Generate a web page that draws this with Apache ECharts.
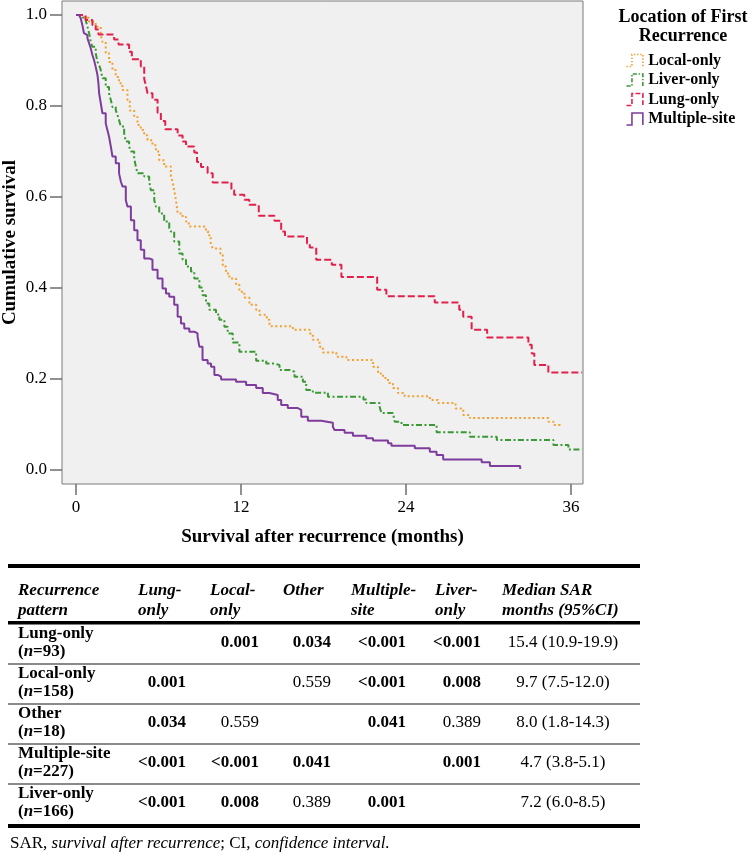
<!DOCTYPE html>
<html>
<head>
<meta charset="utf-8">
<script src="https://cdn.jsdelivr.net/npm/echarts@6/dist/echarts.min.js"></script>
<style>
html,body{margin:0;padding:0;background:#ffffff;}
#main{width:750px;height:853px;}
</style>
</head>
<body>
<div id="main"></div>
<script>
// ---------------- DATA ----------------
const xTicks = [0, 12, 24, 36];
const yTicks = [0, 0.2, 0.4, 0.6, 0.8, 1.0];
const xAxisTitle = 'Survival after recurrence (months)';
const yAxisTitle = 'Cumulative survival';
const legendTitle = ['Location of First', 'Recurrence'];
const seriesNames = ['Local-only', 'Liver-only', 'Lung-only', 'Multiple-site'];

// Kaplan-Meier step points [month, cumulative survival]
const localOnly = [[0,1.0],[0.6,0.994],[0.95,0.985],[1.43,0.974],[1.8,0.956],[1.92,0.941],[2.16,0.916],[2.4,0.897],[2.65,0.879],[2.89,0.864],[3.13,0.850],[3.38,0.835],[3.74,0.813],[3.91,0.790],[4.23,0.776],[4.47,0.758],[4.71,0.747],[4.96,0.736],[5.2,0.725],[5.56,0.714],[5.81,0.700],[6.05,0.681],[6.41,0.667],[6.9,0.645],[7.02,0.634],[7.14,0.615],[7.27,0.593],[7.39,0.564],[7.75,0.556],[8.0,0.546],[8.2,0.535],[9.45,0.525],[9.6,0.516],[9.8,0.498],[9.94,0.487],[10.5,0.475],[10.67,0.447],[10.91,0.432],[11.15,0.421],[11.64,0.407],[11.88,0.392],[12.24,0.379],[12.61,0.363],[13.1,0.352],[13.34,0.341],[13.87,0.330],[14.07,0.316],[15.77,0.308],[16.98,0.300],[17.22,0.286],[17.71,0.271],[17.95,0.258],[18.93,0.249],[19.66,0.242],[21.6,0.227],[21.96,0.212],[22.33,0.202],[22.69,0.191],[23.05,0.180],[23.42,0.169],[23.9,0.162],[25.73,0.154],[26.33,0.147],[27.6,0.135],[28.16,0.121],[28.64,0.114],[34.35,0.106],[34.72,0.099],[35.2,0.095]];
const liverOnly = [[0,1.0],[0.5,0.994],[0.7,0.989],[0.83,0.974],[0.95,0.960],[1.07,0.941],[1.19,0.930],[1.43,0.916],[1.56,0.897],[1.68,0.890],[1.8,0.879],[1.92,0.861],[2.16,0.842],[2.4,0.828],[2.53,0.813],[2.65,0.798],[2.89,0.791],[3.01,0.780],[3.13,0.769],[3.26,0.755],[3.5,0.740],[3.62,0.722],[3.86,0.711],[3.99,0.700],[4.23,0.685],[4.35,0.667],[4.47,0.652],[4.96,0.645],[5.32,0.634],[5.44,0.615],[5.69,0.593],[5.81,0.579],[6.05,0.564],[6.41,0.546],[6.78,0.531],[6.9,0.524],[7.14,0.502],[7.51,0.476],[7.75,0.462],[8.0,0.447],[8.36,0.436],[8.6,0.421],[8.97,0.401],[9.2,0.384],[9.45,0.366],[9.69,0.352],[10.18,0.342],[10.42,0.330],[10.79,0.315],[11.03,0.300],[11.4,0.280],[11.88,0.260],[13.1,0.240],[13.83,0.234],[14.31,0.231],[14.8,0.220],[15.52,0.216],[15.89,0.205],[16.5,0.194],[16.74,0.176],[17.22,0.170],[18.32,0.161],[20.9,0.155],[21.11,0.147],[22.08,0.139],[22.21,0.125],[23.05,0.121],[23.18,0.106],[23.67,0.099],[26.22,0.083],[28.64,0.073],[30.6,0.066],[34.72,0.055],[35.81,0.045],[36.8,0.045]];
const lungOnly = [[0,1.0],[0.7,0.989],[1.19,0.978],[1.43,0.968],[1.63,0.957],[2.77,0.946],[3.09,0.935],[3.86,0.919],[4.06,0.903],[4.71,0.887],[4.96,0.860],[5.1,0.842],[5.2,0.828],[5.56,0.814],[5.93,0.785],[6.17,0.767],[6.49,0.749],[7.39,0.735],[7.75,0.722],[8.0,0.711],[8.6,0.698],[8.8,0.677],[9.09,0.666],[9.57,0.652],[9.94,0.632],[11.3,0.615],[11.5,0.605],[12.24,0.594],[12.6,0.583],[13.29,0.559],[14.43,0.548],[14.92,0.524],[15.2,0.513],[16.8,0.498],[17.0,0.489],[17.47,0.462],[18.6,0.451],[19.3,0.424],[21.9,0.396],[22.57,0.382],[26.09,0.368],[27.87,0.352],[28.16,0.337],[28.77,0.308],[29.9,0.291],[32.9,0.275],[33.14,0.256],[33.33,0.231],[34.35,0.214],[36.8,0.214]];
const multipleSite = [[0,1.0],[0.22,0.996],[0.34,0.993],[0.46,0.978],[0.58,0.960],[0.7,0.956],[0.83,0.949],[0.95,0.938],[1.07,0.927],[1.19,0.912],[1.31,0.901],[1.43,0.886],[1.56,0.868],[1.63,0.850],[1.68,0.828],[1.8,0.806],[1.92,0.784],[2.16,0.762],[2.28,0.747],[2.4,0.733],[2.53,0.711],[2.65,0.689],[2.89,0.674],[3.13,0.652],[3.26,0.634],[3.38,0.623],[3.62,0.593],[3.74,0.579],[3.99,0.549],[4.23,0.527],[4.47,0.505],[4.71,0.484],[4.96,0.465],[5.32,0.462],[5.56,0.440],[5.93,0.421],[6.29,0.399],[6.54,0.388],[6.78,0.381],[7.14,0.363],[7.39,0.337],[7.63,0.322],[7.87,0.311],[8.24,0.304],[8.6,0.300],[8.84,0.293],[8.97,0.271],[9.2,0.242],[9.57,0.234],[9.82,0.227],[10.06,0.209],[10.3,0.205],[10.55,0.199],[11.64,0.194],[12.37,0.187],[13.1,0.180],[13.58,0.169],[14.07,0.165],[14.67,0.154],[14.92,0.143],[15.4,0.136],[16.13,0.132],[16.38,0.117],[16.86,0.108],[17.83,0.104],[18.68,0.095],[18.8,0.088],[19.53,0.082],[20.14,0.075],[21.11,0.070],[21.6,0.065],[22.69,0.059],[22.94,0.053],[24.64,0.048],[25.73,0.040],[26.22,0.033],[26.7,0.023],[29.5,0.017],[30.1,0.009],[32.3,0.002]];

// Table content
const tableHeaders = ['Recurrence\npattern', 'Lung-\nonly', 'Local-\nonly', 'Other', 'Multiple-\nsite', 'Liver-\nonly', 'Median SAR\nmonths (95%CI)'];
const rowNames = ['Lung-only', 'Local-only', 'Other', 'Multiple-site', 'Liver-only'];
const rowN = [93, 158, 18, 227, 166];
const pValues = [
  ['', '0.001', '0.034', '<0.001', '<0.001'],
  ['0.001', '', '0.559', '<0.001', '0.008'],
  ['0.034', '0.559', '', '0.041', '0.389'],
  ['<0.001', '<0.001', '0.041', '', '0.001'],
  ['<0.001', '0.008', '0.389', '0.001', '']
];
const medianSAR = ['15.4 (10.9-19.9)', '9.7 (7.5-12.0)', '8.0 (1.8-14.3)', '4.7 (3.8-5.1)', '7.2 (6.0-8.5)'];
const footnoteParts = [['SAR, ', 'r'], ['survival after recurrence', 'i'], ['; CI, ', 'r'], ['confidence interval.', 'i']];

// ---------------- STYLE / LAYOUT ----------------
const FF = '"Liberation Serif", "Times New Roman", serif';
const colors = {'Local-only':'#f2a02e','Liver-only':'#3a9934','Lung-only':'#e2204c','Multiple-site':'#7e3d9d'};
const dashes = {'Local-only':[2,2.6],'Liver-only':[6,2.5,2,2.5],'Lung-only':[7,3],'Multiple-site':'solid'};
const seriesData = {'Local-only':localOnly,'Liver-only':liverOnly,'Lung-only':lungOnly,'Multiple-site':multipleSite};
const iconPath = 'path://M0,12 L5,12 L5,1 L15,1 L15,12';

const chart = echarts.init(document.getElementById('main'), null, {renderer:'canvas', width:750, height:853});

const graphics = [];
function txt(x, y, text, font, align, extra) {
  const st = Object.assign({text:text, font:font, fill:'#000', align:align||'left', verticalAlign:'middle', textAlign:align||'left', textVerticalAlign:'middle'}, extra||{});
  graphics.push({type:'text', x:x, y:y, silent:true, style:st});
}
function hline(y, h, color) {
  graphics.push({type:'rect', silent:true, shape:{x:8, y:y, width:632, height:h}, style:{fill:color}});
}
// legend title
legendTitle.forEach((t, k) => txt(683, 17 + 19 * k, t, `bold 18px ${FF}`, 'center'));

// table rules
hline(564, 4, '#000');
hline(621, 3.5, '#000');
for (let i = 0; i < rowNames.length - 1; i++) hline(663 + 40 * i, 2, '#8a8a8a');
hline(824, 4, '#000');

const colLeft = [18, 138, 210, 283, 351, 435, 502];
const valRight = [186, 259, 331, 406, 481];
const medianCenter = 563;
tableHeaders.forEach((h, j) => {
  h.split('\n').forEach((line, k) => txt(colLeft[j], 591 + 19.3 * k, line, `italic bold 17px ${FF}`, 'left'));
});
const isSig = v => v.charAt(0) === '<' || parseFloat(v) < 0.05;
rowNames.forEach((name, i) => {
  const cy = 642.7 + 40 * i;
  txt(colLeft[0], cy - 8.7, name, `bold 17px ${FF}`, 'left');
  txt(colLeft[0], cy + 9, '{b|(}{i|n}{b|=' + rowN[i] + ')}', `bold 17px ${FF}`, 'left', {
    rich: {b:{font:`bold 17px ${FF}`, fill:'#000'}, i:{font:`italic bold 17px ${FF}`, fill:'#000'}}
  });
  pValues[i].forEach((v, j) => {
    if (!v) return;
    txt(valRight[j], cy, v, (isSig(v) ? 'bold ' : '') + `17px ${FF}`, 'right');
  });
  txt(medianCenter, cy, medianSAR[i], `17px ${FF}`, 'center');
});
txt(10, 844, footnoteParts.map(p => '{' + p[1] + '|' + p[0] + '}').join(''), `17px ${FF}`, 'left', {
  rich: {r:{font:`17px ${FF}`, fill:'#000'}, i:{font:`italic 17px ${FF}`, fill:'#000'}}
});

const option = {
  animation: false,
  backgroundColor: '#ffffff',
  grid: {left:62, top:1, right:167, bottom:369, show:true, backgroundColor:'#f0f0f0', borderColor:'#7a7a7a', borderWidth:1, containLabel:false, outerBoundsMode:'none'},
  xAxis: {
    type:'value', min:-1.02, max:36.87,
    name: xAxisTitle, nameLocation:'middle', nameGap:44, nameMoveOverlap:false,
    nameTextStyle:{fontFamily:FF, fontWeight:'bold', fontSize:19, color:'#000'},
    axisLine:{show:false, onZero:false},
    axisTick:{show:true, customValues:xTicks, length:11, lineStyle:{color:'#6e6e6e', width:1.5}},
    axisLabel:{customValues:xTicks, fontFamily:FF, fontSize:17, color:'#000', margin:15, formatter: v => String(v)},
    splitLine:{show:false}
  },
  yAxis: {
    type:'value', min:-0.0308, max:1.0308,
    name: yAxisTitle, nameLocation:'middle', nameGap:42, nameRotate:90, nameMoveOverlap:false,
    nameTextStyle:{fontFamily:FF, fontWeight:'bold', fontSize:19, color:'#000'},
    axisLine:{show:false, onZero:false},
    axisTick:{show:true, customValues:yTicks, length:12, lineStyle:{color:'#6e6e6e', width:1.5}},
    axisLabel:{customValues:yTicks, fontFamily:FF, fontSize:17, color:'#000', margin:15, formatter: v => v.toFixed(1)},
    splitLine:{show:false}
  },
  legend: {
    orient:'vertical', left:624, top:52, padding:0, itemWidth:17, itemHeight:12, itemGap:2.5,
    selectedMode:false,
    textStyle:{fontFamily:FF, fontWeight:'bold', fontSize:16, color:'#000'},
    data: seriesNames.map(n => ({
      name:n, icon:iconPath,
      itemStyle:{color:'none', borderColor:colors[n], borderWidth:1.6, borderType: dashes[n] === 'solid' ? 'solid' : dashes[n].map(d => d * 0.7)}
    }))
  },
  series: seriesNames.map(n => ({
    name:n, type:'line', step:'end', data:seriesData[n],
    showSymbol:false, symbol:'none', silent:true,
    lineStyle:{color:colors[n], width:2, type:dashes[n]},
    itemStyle:{color:colors[n]}
  })),
  graphic: graphics
};
chart.setOption(option);
</script>
</body>
</html>
